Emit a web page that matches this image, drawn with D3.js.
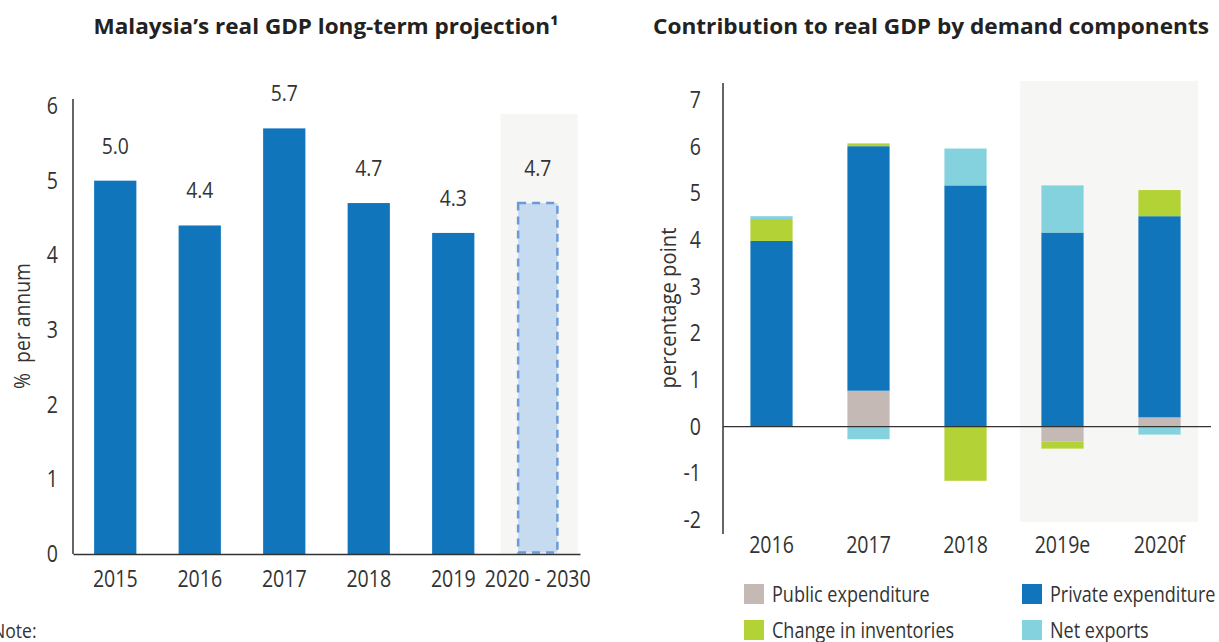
<!DOCTYPE html>
<html>
<head>
<meta charset="utf-8">
<title>Malaysia real GDP</title>
<script src="https://d3js.org/d3.v7.min.js"></script>
<style>
  body { margin: 0; background: #fff; }
  svg text { fill: #333; font-family: "Open Sans", "Noto Sans", sans-serif; }
  .ttl { font-weight: 700; font-size: 22px; fill: #222 !important; }
</style>
</head>
<body>
<svg id="chart" width="1219" height="642"></svg>
<script>
// left chart: long-term projection
const years = ["2015", "2016", "2017", "2018", "2019", "2020 - 2030"];
const growth = [5.0, 4.4, 5.7, 4.7, 4.3, 4.7];
const leftTicks = [0, 1, 2, 3, 4, 5, 6];

// right chart: contribution by demand components
const periods = ["2016", "2017", "2018", "2019e", "2020f"];
const components = ["Public expenditure", "Private expenditure", "Change in inventories", "Net exports"];
const publicExp = [0.0, 0.77, 0.0, -0.32, 0.2];
const privateExp = [3.98, 5.24, 5.17, 4.16, 4.31];
const inventories = [0.47, 0.06, -1.16, -0.15, 0.56];
const netExports = [0.06, -0.27, 0.79, 1.01, -0.17];
const rightTicks = [-2, -1, 0, 1, 2, 3, 4, 5, 6, 7];
const compColors = ["#c4b9b5", "#1075bb", "#b2d235", "#84d2dd"];

const svg = d3.select("#chart");

// squeeze text sideways, the original uses a condensed face
function condense(sel, sx) {
  sel.each(function() {
    const t = d3.select(this);
    const x = +t.attr("x") || 0, y = +t.attr("y") || 0;
    const prev = t.attr("transform") || "";
    t.attr("x", 0).attr("y", 0)
     .attr("transform", prev + " translate(" + x + "," + y + ") scale(" + sx + ",1)");
  });
}

//---------- left ----------
const xL = d3.scaleBand().domain(years).range([73, 580]).paddingInner(0.5).paddingOuter(0.25);
const yL = d3.scaleLinear().domain([0, 6]).range([554, 106]);

svg.append("text").attr("class", "ttl")
  .attr("x", 326).attr("y", 34).attr("text-anchor", "middle")
  .attr("textLength", 465).attr("lengthAdjust", "spacingAndGlyphs")
  .text("Malaysia\u2019s real GDP long-term projection\u00b9");

// projection shading
svg.append("rect")
  .attr("x", xL("2020 - 2030") - 16)
  .attr("y", 114)
  .attr("width", 77)
  .attr("height", yL(0) - 114)
  .attr("fill", "#f6f6f4");

svg.append("g").selectAll("rect")
  .data(years.slice(0, 5))
  .join("rect")
  .attr("x", d => xL(d))
  .attr("y", (d, i) => yL(growth[i]))
  .attr("width", xL.bandwidth())
  .attr("height", (d, i) => yL(0) - yL(growth[i]))
  .attr("fill", "#1075bb");

// projected bar, dashed
svg.append("rect")
  .attr("x", xL("2020 - 2030") + 1.5)
  .attr("y", yL(growth[5]))
  .attr("width", xL.bandwidth() - 3)
  .attr("height", yL(0) - yL(growth[5]) - 1.5)
  .attr("fill", "#c6daf0")
  .attr("stroke", "#6a9bd8")
  .attr("stroke-width", 2.5)
  .attr("stroke-dasharray", "8,6");

svg.append("g").selectAll("text")
  .data(years)
  .join("text")
  .attr("x", d => xL(d) + xL.bandwidth() / 2)
  .attr("y", (d, i) => yL(growth[i]) - 27)
  .attr("text-anchor", "middle")
  .attr("font-size", 22)
  .text((d, i) => growth[i].toFixed(1))
  .call(condense, 0.88);

const axL = svg.append("g").attr("transform", "translate(73,0)")
  .call(d3.axisLeft(yL).tickValues(leftTicks).tickFormat(d => d).tickSize(0).tickPadding(15));
axL.select(".domain").attr("stroke", "#333").attr("stroke-width", 1.5)
  .attr("d", "M0,99V" + yL(0));
axL.selectAll("text").attr("font-size", 23).attr("fill", "#333").call(condense, 0.85);

const axLx = svg.append("g").attr("transform", "translate(0," + yL(0) + ")")
  .call(d3.axisBottom(xL).tickSize(0).tickPadding(17));
axLx.select(".domain").attr("stroke", "#333").attr("stroke-width", 1.5);
axLx.selectAll("text").attr("font-size", 23).attr("fill", "#333").call(condense, 0.85);

svg.append("text")
  .attr("transform", "translate(30,326) rotate(-90) scale(0.88,1)")
  .attr("text-anchor", "middle").attr("font-size", 22)
  .attr("xml:space", "preserve")
  .text("%  per annum");

svg.append("text")
  .attr("x", -8).attr("y", 638).attr("font-size", 20)
  .text("Note:")
  .call(condense, 0.88);

//---------- right ----------
const xR = d3.scaleBand().domain(periods).range([723, 1208]).paddingInner(0.565).paddingOuter(0.2825);
const yR = d3.scaleLinear().domain([-2, 7]).range([520, 100]);

svg.append("text").attr("class", "ttl")
  .attr("x", 931).attr("y", 34).attr("text-anchor", "middle")
  .attr("textLength", 556).attr("lengthAdjust", "spacingAndGlyphs")
  .text("Contribution to real GDP by demand components");

// forecast shading
svg.append("rect")
  .attr("x", xR("2019e") - 21.5)
  .attr("y", 81)
  .attr("width", 178)
  .attr("height", 441)
  .attr("fill", "#f6f6f4");

const rows = periods.map((p, i) => ({
  period: p,
  "Public expenditure": publicExp[i],
  "Private expenditure": privateExp[i],
  "Change in inventories": inventories[i],
  "Net exports": netExports[i]
}));
const stacked = d3.stack().keys(components).offset(d3.stackOffsetDiverging)(rows);
const color = d3.scaleOrdinal().domain(components).range(compColors);

svg.append("g").selectAll("g")
  .data(stacked)
  .join("g")
  .attr("fill", d => color(d.key))
  .selectAll("rect")
  .data(d => d)
  .join("rect")
  .attr("x", d => xR(d.data.period))
  .attr("y", d => yR(Math.max(d[0], d[1])))
  .attr("width", xR.bandwidth())
  .attr("height", d => Math.abs(yR(d[0]) - yR(d[1])));

const axR = svg.append("g").attr("transform", "translate(723,0)")
  .call(d3.axisLeft(yR).tickValues(rightTicks).tickFormat(d => String(d)).tickSize(0).tickPadding(22));
axR.select(".domain").attr("stroke", "#333").attr("stroke-width", 1.5)
  .attr("d", "M0,83V534");
axR.selectAll("text").attr("font-size", 23).attr("fill", "#333").call(condense, 0.85);

// zero line
svg.append("line")
  .attr("x1", 723).attr("x2", 1211)
  .attr("y1", yR(0)).attr("y2", yR(0))
  .attr("stroke", "#333").attr("stroke-width", 1.2);

svg.append("g").selectAll("text")
  .data(periods)
  .join("text")
  .attr("x", d => xR(d) + xR.bandwidth() / 2)
  .attr("y", 553)
  .attr("text-anchor", "middle")
  .attr("font-size", 23)
  .text(d => d)
  .call(condense, 0.85);

svg.append("text")
  .attr("transform", "translate(676,308) rotate(-90) scale(0.92,1)")
  .attr("text-anchor", "middle").attr("font-size", 22)
  .text("percentage point");

// legend
const legPos = [[744, 584], [1022, 584], [744, 620], [1022, 620]];
const leg = svg.append("g").selectAll("g")
  .data(components)
  .join("g")
  .attr("transform", (d, i) => "translate(" + legPos[i][0] + "," + legPos[i][1] + ")");
leg.append("rect").attr("width", 20).attr("height", 20).attr("fill", d => color(d));
leg.append("text")
  .attr("x", 28).attr("y", 18).attr("font-size", 22)
  .text(d => d)
  .call(condense, 0.82);
</script>
</body>
</html>
